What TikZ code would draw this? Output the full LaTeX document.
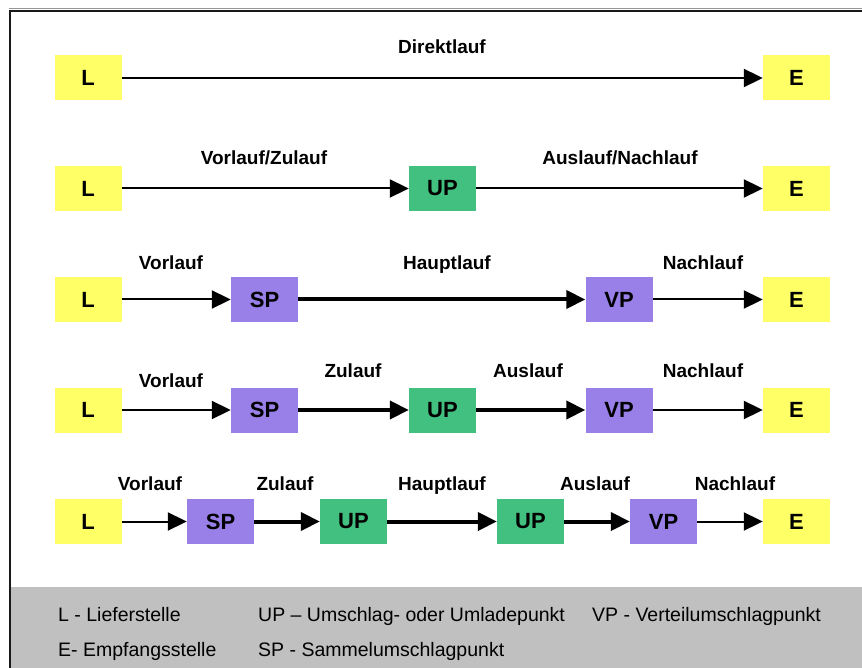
\documentclass[tikz,border=0pt]{standalone}
\usepackage{fontspec}
\setmainfont{Liberation Sans}
\usetikzlibrary{arrows.meta}

\definecolor{pointyellow}{RGB}{255,255,102}
\definecolor{upgreen}{RGB}{66,192,128}
\definecolor{hubpurple}{RGB}{153,128,232}
\definecolor{legendgray}{RGB}{192,192,192}
\definecolor{framegray}{RGB}{150,150,150}

\tikzset{
  box/.style={minimum width=67pt, minimum height=45pt, inner sep=0pt,
    font=\fontsize{22}{24}\selectfont\bfseries},
  endbox/.style={box, fill=pointyellow},
  upbox/.style={box, fill=upgreen},
  hubbox/.style={box, fill=hubpurple},
  flow/.style={line width=2pt, -{Triangle[length=19pt,width=18pt]}},
  mainflow/.style={flow, line width=4pt},
  lbl/.style={anchor=base, inner sep=0pt, font=\fontsize{19}{22}\selectfont\bfseries},
  legend/.style={anchor=base west, inner sep=0pt, font=\fontsize{19.5}{22}\selectfont}
}

\begin{document}
\begin{tikzpicture}[x=1pt, y=-1pt]
  \useasboundingbox (0,0) rectangle (862,668);

  % legend background and frame
  \fill[legendgray] (10.5,587) rectangle (862,668);
  \draw[framegray, line width=1pt] (8.5,8.5) -- (862,8.5);
  \draw[black!90, line width=2pt] (9.5,668) -- (9.5,11) -- (862,11);

  % row 1: direct run
  \node[endbox] (r1L) at (88,78) {L};
  \node[endbox] (r1E) at (796.5,78) {E};
  \draw[flow] (r1L.east) -- (r1E.west);
  \node[lbl] (t1a) at (442,54) {Direktlauf};

  % row 2: one transfer point
  \node[endbox] (r2L) at (88,188.5) {L};
  \node[upbox] (r2U) at (442.5,188.5) {UP};
  \node[endbox] (r2E) at (796.5,188.5) {E};
  \draw[flow] (r2L.east) -- (r2U.west);
  \draw[flow] (r2U.east) -- (r2E.west);
  \node[lbl] (t2a) at (264,165) {Vorlauf/Zulauf};
  \node[lbl] (t2b) at (620,165) {Auslauf/Nachlauf};

  % row 3: collecting and distribution points
  \node[endbox] (r3L) at (88,299.5) {L};
  \node[hubbox] (r3S) at (264.5,299.5) {SP};
  \node[hubbox] (r3V) at (619,299.5) {VP};
  \node[endbox] (r3E) at (796.5,299.5) {E};
  \draw[flow] (r3L.east) -- (r3S.west);
  \draw[mainflow] (r3S.east) -- (r3V.west);
  \draw[flow] (r3V.east) -- (r3E.west);
  \node[lbl] (t3a) at (171,270) {Vorlauf};
  \node[lbl] (t3b) at (447,270) {Hauptlauf};
  \node[lbl] (t3c) at (703,270) {Nachlauf};

  % row 4: collecting, transfer and distribution points
  \node[endbox] (r4L) at (88,410) {L};
  \node[hubbox] (r4S) at (264.5,410) {SP};
  \node[upbox] (r4U) at (442.5,410) {UP};
  \node[hubbox] (r4V) at (619,410) {VP};
  \node[endbox] (r4E) at (796.5,410) {E};
  \draw[flow] (r4L.east) -- (r4S.west);
  \draw[mainflow] (r4S.east) -- (r4U.west);
  \draw[mainflow] (r4U.east) -- (r4V.west);
  \draw[flow] (r4V.east) -- (r4E.west);
  \node[lbl] (t4a) at (171,387) {Vorlauf};
  \node[lbl] (t4b) at (353,377) {Zulauf};
  \node[lbl] (t4c) at (528,377) {Auslauf};
  \node[lbl] (t4d) at (703,377) {Nachlauf};

  % row 5: two transfer points
  \node[endbox] (r5L) at (88,521.5) {L};
  \node[hubbox] (r5S) at (220.5,521.5) {SP};
  \node[upbox] (r5U1) at (353.5,521.5) {UP};
  \node[upbox] (r5U2) at (530.5,521.5) {UP};
  \node[hubbox] (r5V) at (663.5,521.5) {VP};
  \node[endbox] (r5E) at (796.5,521.5) {E};
  \draw[flow] (r5L.east) -- (r5S.west);
  \draw[mainflow] (r5S.east) -- (r5U1.west);
  \draw[mainflow] (r5U1.east) -- (r5U2.west);
  \draw[mainflow] (r5U2.east) -- (r5V.west);
  \draw[flow] (r5V.east) -- (r5E.west);
  \node[lbl] (t5a) at (150,490) {Vorlauf};
  \node[lbl] (t5b) at (285,490) {Zulauf};
  \node[lbl] (t5c) at (442,490) {Hauptlauf};
  \node[lbl] (t5d) at (595,490) {Auslauf};
  \node[lbl] (t5e) at (735,490) {Nachlauf};

  % legend
  \node[legend] (k1) at (58,621) {L - Lieferstelle};
  \node[legend] (k2) at (58,656) {E- Empfangsstelle};
  \node[legend] (k3) at (258,621) {UP -- Umschlag- oder Umladepunkt};
  \node[legend] (k4) at (258,656) {SP - Sammelumschlagpunkt};
  \node[legend] (k5) at (592,621) {VP - Verteilumschlagpunkt};
\end{tikzpicture}
\end{document}
